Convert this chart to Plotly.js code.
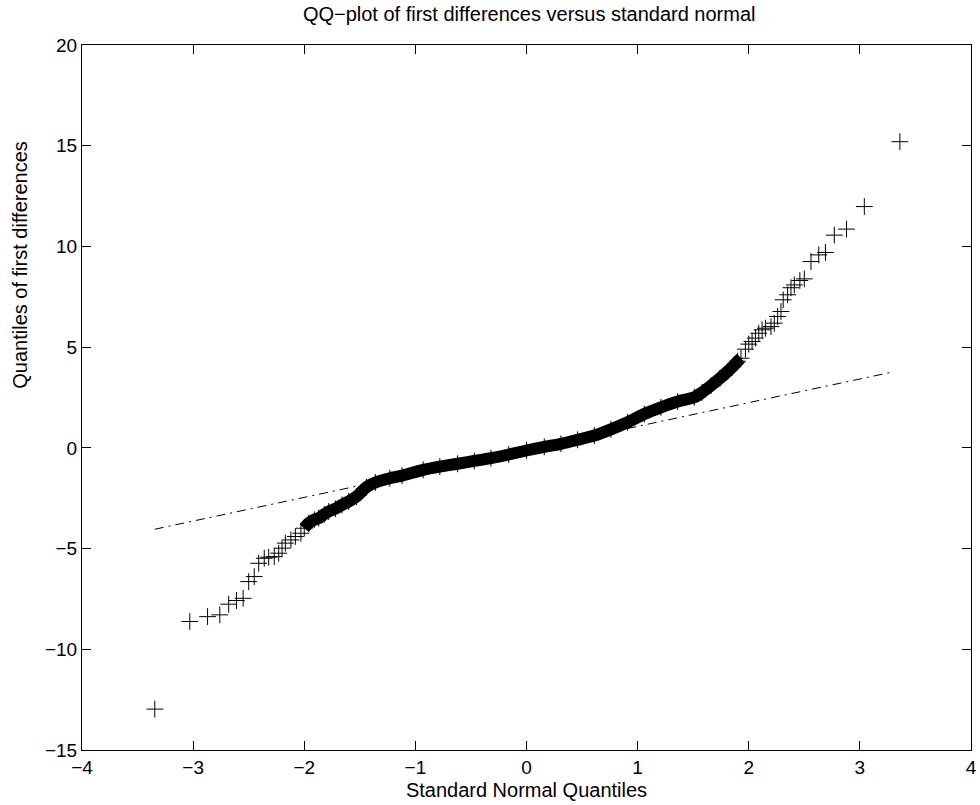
<!DOCTYPE html>
<html>
<head>
<meta charset="utf-8">
<script src="https://cdn.plot.ly/plotly-3.0.1.min.js"></script>
<style>html,body{margin:0;padding:0;background:#fff;}#chart{width:980px;height:805px;}</style>
</head>
<body>
<div id="chart"></div>
<script>
// Standard normal quantiles (x) and sample quantiles of first differences (y)
var qx = [-3.345, -3.03, -2.87, -2.76, -2.68, -2.61, -2.55, -2.50, -2.45, -2.41, -2.36, -2.32, -2.27, -2.23,
  -2.20, -2.17, -2.12, -2.08, -2.03, -2.00, -1.96, -1.91, -1.87, -1.82, -1.78, -1.72, -1.66, -1.60, -1.53,
  -1.44, -1.36, -1.23, -1.12, -0.93, -0.78, -0.62, -0.47, -0.32, -0.16, 0.00, 0.16, 0.31, 0.46, 0.61, 0.76,
  0.91, 1.06, 1.21, 1.36, 1.51, 1.58, 1.66, 1.74, 1.81, 1.85, 1.90, 1.93, 1.97, 2.00, 2.03, 2.06, 2.09, 2.12,
  2.15, 2.20, 2.23, 2.26, 2.29, 2.31, 2.35, 2.38, 2.41, 2.46, 2.50, 2.56, 2.63, 2.69, 2.77, 2.88, 3.04, 3.36];
var qy = [-12.97, -8.62, -8.38, -8.29, -7.76, -7.58, -7.47, -6.64, -6.39, -5.73, -5.48, -5.43, -5.40, -5.23,
  -4.98, -4.73, -4.57, -4.40, -4.24, -3.99, -3.74, -3.57, -3.49, -3.30, -3.16, -3.02, -2.83, -2.66, -2.42,
  -1.95, -1.72, -1.51, -1.38, -1.09, -0.93, -0.79, -0.65, -0.51, -0.33, -0.13, 0.05, 0.20, 0.40, 0.61, 0.92,
  1.27, 1.68, 2.01, 2.30, 2.51, 2.75, 3.09, 3.45, 3.79, 4.00, 4.30, 4.45, 4.90, 5.15, 5.28, 5.45, 5.69, 5.86,
  5.94, 6.02, 6.19, 6.52, 6.77, 7.35, 7.60, 7.95, 8.09, 8.31, 8.39, 9.25, 9.58, 9.70, 10.56, 10.86, 11.98, 15.20];
// Reference line through the quartiles (end points)
var refX = [-3.345, 3.29];
var refY = [-4.04, 3.76];
// Range where the points are so dense that they merge into a solid band
var bandMin = -2.0, bandMax = 1.93;
var xTicks = [-4, -3, -2, -1, 0, 1, 2, 3, 4];
var yTicks = [-15, -10, -5, 0, 5, 10, 15, 20];

var bandX = [], bandY = [];
for (var i = 0; i < qx.length; i++) {
  if (qx[i] >= bandMin && qx[i] <= bandMax) { bandX.push(qx[i]); bandY.push(qy[i]); }
}

var font = 'Liberation Sans, Arial, Helvetica, sans-serif';
var traces = [
  {x: bandX, y: bandY, mode: 'lines', line: {color: '#000', width: 12, shape: 'spline', smoothing: 0.6},
   hoverinfo: 'skip', showlegend: false},
  {x: qx, y: qy, mode: 'markers', showlegend: false,
   marker: {symbol: 'cross-thin-open', size: 12, color: '#000', line: {color: '#000', width: 1}}},
  {x: refX, y: refY, mode: 'lines', showlegend: false,
   line: {color: '#000', width: 1, dash: '9px,5px,2px,5px'}}
];

var axisCommon = {
  showgrid: false, zeroline: false, showline: true, linecolor: '#000', linewidth: 1,
  mirror: 'ticks', ticks: 'inside', ticklen: 9, tickcolor: '#000', tickwidth: 1,
  tickfont: {family: font, size: 19, color: '#000'}
};
var layout = {
  width: 980, height: 805,
  paper_bgcolor: '#fff', plot_bgcolor: '#fff',
  margin: {l: 82, r: 9, t: 45, b: 55},
  title: {text: 'QQ\u2212plot of first differences versus standard normal', x: 0.540, xanchor: 'center',
          y: 0.982, yanchor: 'middle', font: {family: font, size: 20, color: '#000'}},
  xaxis: Object.assign({}, axisCommon, {range: [-4, 4], tickvals: xTicks,
    title: {text: 'Standard Normal Quantiles', font: {family: font, size: 20, color: '#000'}, standoff: 6}}),
  yaxis: Object.assign({}, axisCommon, {range: [-15, 20], tickvals: yTicks}),
  annotations: [{text: 'Quantiles of first differences', textangle: -90, xref: 'paper', yref: 'paper',
    x: -0.070, y: 0.688, xanchor: 'center', yanchor: 'middle', showarrow: false,
    font: {family: font, size: 20, color: '#000'}}]
};
Plotly.newPlot('chart', traces, layout, {displayModeBar: false, staticPlot: true});
</script>
</body>
</html>
